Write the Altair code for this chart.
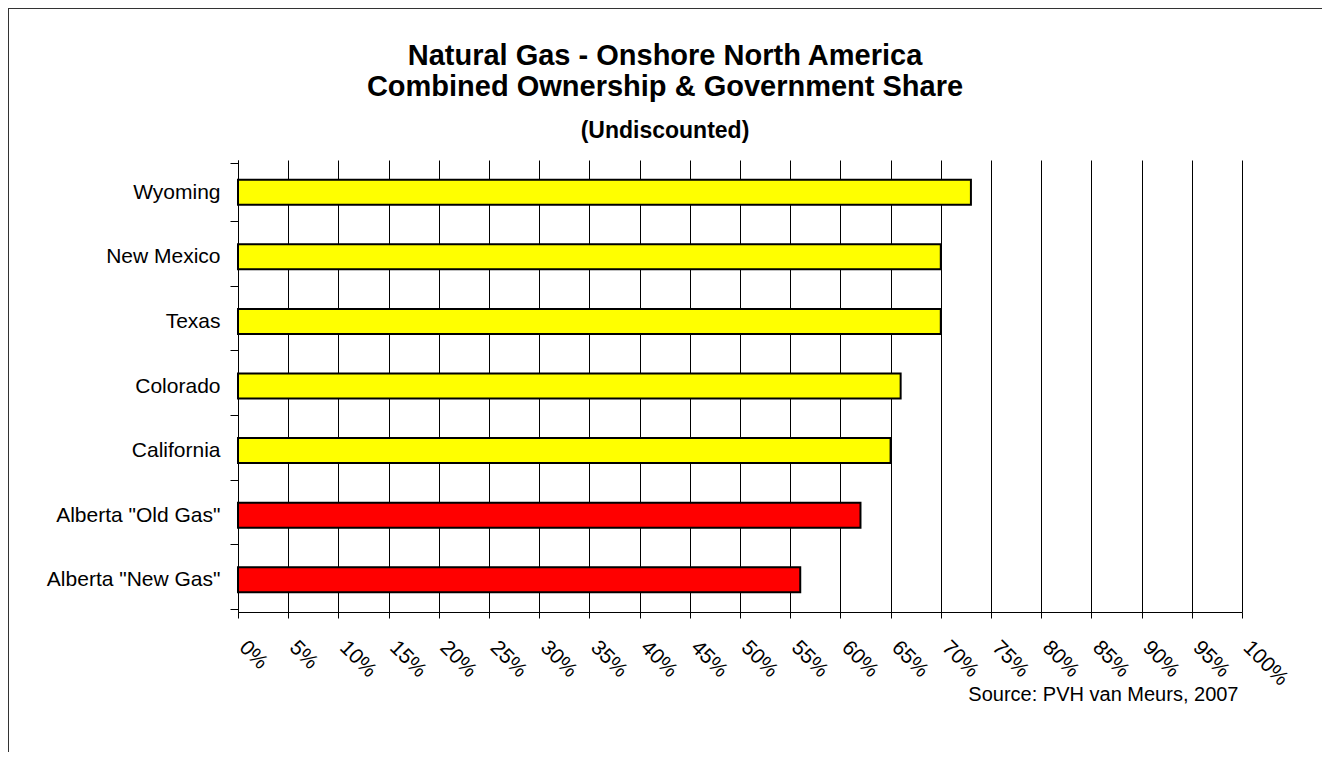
import altair as alt
import pandas as pd

states = ["Wyoming", "New Mexico", "Texas", "Colorado", "California",
          "Alberta \"Old Gas\"", "Alberta \"New Gas\""]
shares = [0.73, 0.70, 0.70, 0.66, 0.65, 0.62, 0.56]
groups = ["US", "US", "US", "US", "US", "Canada", "Canada"]
tick_values = [i / 20 for i in range(21)]
title_lines = ["Natural Gas - Onshore North America",
               "Combined Ownership & Government Share"]
subtitle_text = "(Undiscounted)"
source_text = "Source: PVH van Meurs, 2007"

df = pd.DataFrame({"state": states, "share": shares, "group": groups})

W, H = 1004, 452
PL, PT, PR, PB = 230, 152, 80, 140
FONT = "Liberation Sans"
TX = 427  # title centre, relative to plot left

bars = alt.Chart(df).mark_bar(size=25, stroke="black", strokeWidth=2).encode(
    y=alt.Y("state:N", sort=states, title=None,
            axis=alt.Axis(tickBand="extent", tickSize=8, tickColor="black",
                          domainColor="black", labelFontSize=21, labelFont=FONT,
                          labelColor="black", labelPadding=10, grid=False)),
    x=alt.X("share:Q", scale=alt.Scale(domain=[0, 1], nice=False),
            axis=alt.Axis(values=tick_values, format=".0%", grid=True,
                          gridColor="black", gridOpacity=1, gridWidth=1,
                          tickSize=6, tickColor="black", domainColor="black",
                          labelAngle=45, labelAlign="left", labelBaseline="middle",
                          labelFontSize=21, labelFont=FONT, labelColor="black",
                          labelPadding=26, labelOffset=4, labelOverlap=False,
                          title=source_text,
                          titleFont=FONT, titleFontSize=20, titleFontWeight="normal",
                          titleColor="black", titleAlign="right",
                          titleAnchor="end", titleX=1000, titleY=88,
                          titleBaseline="alphabetic")),
    color=alt.Color("group:N", scale=alt.Scale(domain=["US", "Canada"],
                                               range=["#FFFF00", "#FF0000"]),
                    legend=None),
)

one = pd.DataFrame({"a": [0]})
top_line = alt.Chart(one).mark_rule(color="#333333", strokeWidth=2).encode(
    x=alt.value(-PL - 1), x2=alt.value(W + PR), y=alt.value(-PT))
left_line = alt.Chart(one).mark_rule(color="#333333", strokeWidth=2).encode(
    x=alt.value(-PL), y=alt.value(-PT - 1), y2=alt.value(H + PB))

t1 = alt.Chart(one).mark_text(text=title_lines[0], font=FONT, fontSize=29,
                              fontWeight="bold", color="black", align="center",
                              baseline="alphabetic").encode(
    x=alt.value(TX), y=alt.value(-95))
t2 = alt.Chart(one).mark_text(text=title_lines[1], font=FONT, fontSize=29,
                              fontWeight="bold", color="black", align="center",
                              baseline="alphabetic").encode(
    x=alt.value(TX), y=alt.value(-64))
t3 = alt.Chart(one).mark_text(text=subtitle_text, font=FONT, fontSize=23,
                              fontWeight="bold", color="black", align="center",
                              baseline="alphabetic").encode(
    x=alt.value(TX), y=alt.value(-22))

chart = alt.layer(bars, top_line, left_line, t1, t2, t3).properties(
    width=W, height=H,
    autosize=alt.AutoSizeParams(type="none"),
    padding={"left": PL, "top": PT, "right": PR, "bottom": PB},
).configure_view(stroke=None)

chart.save("out.html", embed_options={"renderer": "svg", "actions": False})
